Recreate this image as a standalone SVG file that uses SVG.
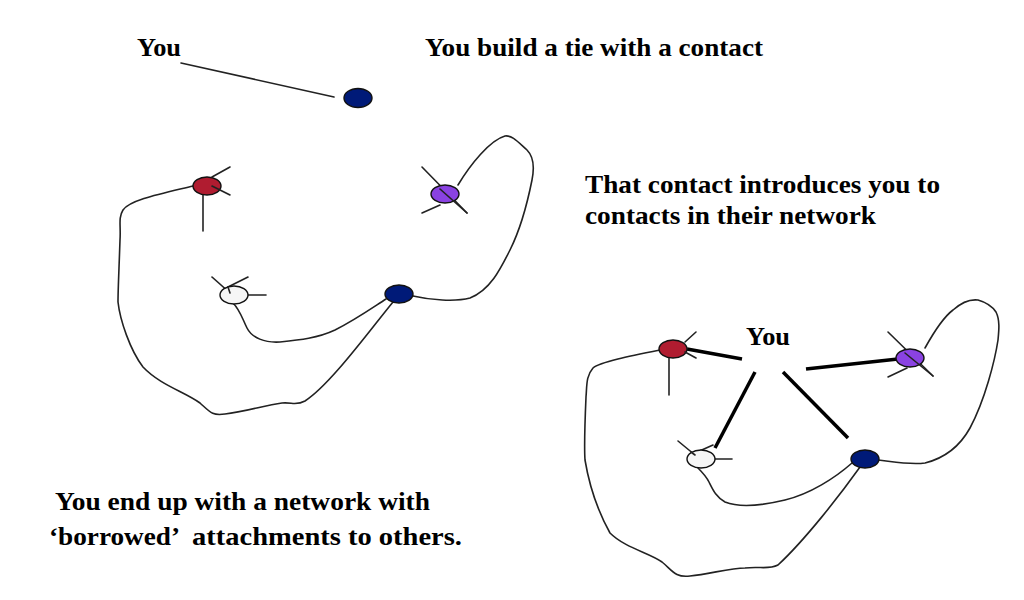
<svg xmlns="http://www.w3.org/2000/svg" width="1024" height="600" viewBox="0 0 1024 600">
<style>
.t{font-family:"Liberation Serif","Times New Roman",serif;font-weight:bold;font-size:26px;fill:#000}
.thin{fill:none;stroke:#222;stroke-width:1.6;stroke-linecap:round;stroke-linejoin:round}
.thick{fill:none;stroke:#000;stroke-width:3.5}
.n{stroke:#111;stroke-width:1.4}
.red{fill:#B01C30}.pur{fill:#8A42E2}.blu{fill:#001A78}.wht{fill:#F6F6F6}
</style>
<rect width="1024" height="600" fill="#fff"/>
<g id="captions">
<text class="t" x="137" y="56" textLength="44" lengthAdjust="spacingAndGlyphs">You</text>
<text class="t" x="425" y="56" textLength="338" lengthAdjust="spacingAndGlyphs">You build a tie with a contact</text>
<text class="t" x="585" y="193" textLength="355" lengthAdjust="spacingAndGlyphs">That contact introduces you to</text>
<text class="t" x="585" y="224" textLength="291" lengthAdjust="spacingAndGlyphs">contacts in their network</text>
<text class="t" x="55" y="510" textLength="375" lengthAdjust="spacingAndGlyphs">You end up with a network with</text>
<text class="t" x="49" y="545" textLength="131" lengthAdjust="spacingAndGlyphs">‘borrowed’</text>
<text class="t" x="192" y="545" textLength="270" lengthAdjust="spacingAndGlyphs">attachments to others.</text>
<text class="t" x="746" y="345" textLength="44" lengthAdjust="spacingAndGlyphs">You</text>
</g>
<g id="connectors">
<line class="thin" x1="181" y1="63" x2="334" y2="97"/>
<path class="thin" d="M193,186 C160,194 130,200 123,210 C118,218 121,226 120,240 C119,270 118,290 118,302 C120,320 130,350 143,367 C160,385 185,392 200,403 C210,412 212,416 225,414 C245,412 265,405 282,403 C292,402 296,406 305,401 C330,385 370,330 393,302"/>
<path class="thin" d="M458,185 C470,165 490,140 505,136 C512,135 518,142 527,150 C535,158 534,170 532,180 C528,200 520,230 510,250 C500,270 490,290 470,298 C455,302 430,300 413,296"/>
<path class="thin" d="M233,303 C240,310 242,318 247,328 C252,338 265,343 280,342 C300,340 318,338 335,330 C355,320 372,308 386,299"/>
<line class="thin" x1="203" y1="194" x2="203" y2="231"/>
<line class="thin" x1="422" y1="167" x2="467" y2="213"/>
<line class="thin" x1="422" y1="213" x2="440" y2="205"/>
<line class="thin" x1="212" y1="277" x2="230" y2="293"/>
<line class="thin" x1="228" y1="287" x2="248" y2="277"/>
<line class="thin" x1="248" y1="295" x2="266" y2="295"/>
<path class="thin" d="M660,350 C630,356 600,362 593,368 C586,376 587,385 586,397 C585,420 584,445 585,460 C590,490 600,515 610,533 C625,548 650,553 662,562 C672,570 675,578 690,576 C710,574 730,568 745,568 C760,566 768,570 778,565 C805,540 840,495 860,467"/>
<path class="thin" d="M925,348 C935,330 945,316 953,310 C962,302 970,299 978,300 C985,302 992,306 996,312 C1000,320 999,330 998,340 C995,360 985,400 970,428 C960,446 945,458 925,463 C910,465 895,462 878,460"/>
<path class="thin" d="M698,468 C702,472 706,476 709,482 C713,490 716,497 725,502 C740,508 760,506 785,500 C810,494 835,478 852,463"/>
<line class="thin" x1="669" y1="358" x2="669" y2="395"/>
<line class="thin" x1="888" y1="332" x2="933" y2="376"/>
<line class="thin" x1="888" y1="377" x2="907" y2="368"/>
<line class="thin" x1="678" y1="441" x2="695" y2="455"/>
<line class="thin" x1="695" y1="453" x2="713" y2="445"/>
<line class="thin" x1="715" y1="459" x2="732" y2="459"/>
<line class="thick" x1="687" y1="349" x2="742" y2="359"/>
<line class="thick" x1="755" y1="372" x2="715" y2="448"/>
<line class="thick" x1="783" y1="372" x2="848" y2="438"/>
<line class="thick" x1="806" y1="369" x2="898" y2="359"/>
</g>
<g id="node-contact-top"><ellipse class="n blu" cx="358" cy="98" rx="14" ry="9.5"/></g>
<g id="node-left-red"><ellipse class="n red" cx="207" cy="186" rx="14" ry="9"/></g>
<g id="node-left-purple"><ellipse class="n pur" cx="445" cy="194" rx="14" ry="9"/></g>
<g id="node-left-white"><ellipse class="n wht" cx="234" cy="295" rx="14" ry="9"/></g>
<g id="node-left-blue"><ellipse class="n blu" cx="399" cy="294" rx="14" ry="9"/></g>
<g id="node-right-red"><ellipse class="n red" cx="673" cy="349" rx="14" ry="9"/></g>
<g id="node-right-purple"><ellipse class="n pur" cx="910" cy="358" rx="14" ry="9"/></g>
<g id="node-right-white"><ellipse class="n wht" cx="701" cy="459" rx="14" ry="9"/></g>
<g id="node-right-blue"><ellipse class="n blu" cx="865" cy="459" rx="14" ry="9"/></g>
<g id="spokes-over">
<line class="thin" x1="212" y1="177" x2="230" y2="167"/>
<line class="thin" x1="212" y1="186" x2="230" y2="195"/>
<line class="thin" x1="440" y1="189" x2="467" y2="213"/>
<line class="thin" x1="228" y1="287" x2="230" y2="293"/>
<line class="thin" x1="685" y1="342" x2="696" y2="332"/>
<line class="thin" x1="685" y1="352" x2="696" y2="358"/>
<line class="thin" x1="905" y1="353" x2="933" y2="376"/>
<line class="thin" x1="691" y1="452" x2="695" y2="455"/>
</g>
</svg>
